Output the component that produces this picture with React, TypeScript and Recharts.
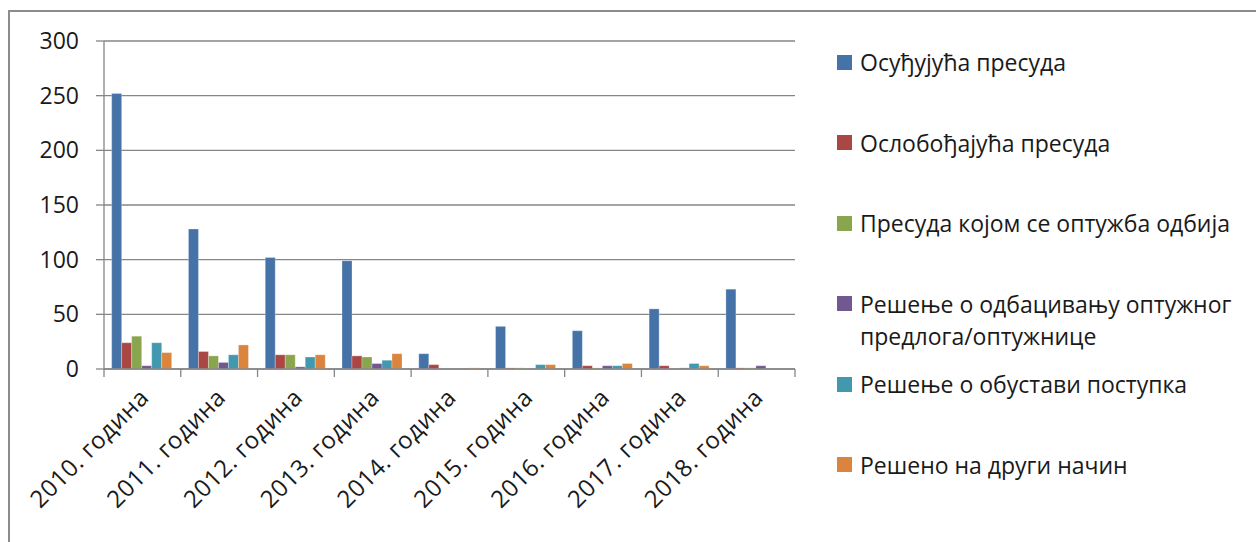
import React from "react";
import { BarChart, Bar, XAxis, YAxis, CartesianGrid, Legend } from "recharts";

const years = ["2010. година", "2011. година", "2012. година", "2013. година", "2014. година", "2015. година", "2016. година", "2017. година", "2018. година"];

const osudjujuca = [252, 128, 102, 99, 14, 39, 35, 55, 73];
const oslobadjajuca = [24, 16, 13, 12, 4, 1, 3, 3, 1];
const odbija = [30, 12, 13, 11, 0, 1, 1, 0, 1];
const odbacivanje = [3, 6, 2, 5, 0, 0, 3, 1, 3];
const obustava = [24, 13, 11, 8, 0, 4, 3, 5, 0];
const drugiNacin = [15, 22, 13, 14, 1, 4, 5, 3, 0];

const yTicks = [0, 50, 100, 150, 200, 250, 300];

const series = [
  { key: "s1", name: "Осуђујућа пресуда", values: osudjujuca, color: "#4572A7" },
  { key: "s2", name: "Ослобођајућа пресуда", values: oslobadjajuca, color: "#AA4643" },
  { key: "s3", name: "Пресуда којом се оптужба одбија", values: odbija, color: "#89A54E" },
  { key: "s4", name: "Решење о одбацивању оптужног предлога/оптужнице", values: odbacivanje, color: "#71588F" },
  { key: "s5", name: "Решење о обустави поступка", values: obustava, color: "#4198AF" },
  { key: "s6", name: "Решено на други начин", values: drugiNacin, color: "#DB843D" },
];

const data = years.map((year, i) => {
  const row: Record<string, string | number> = { year };
  series.forEach((s) => { row[s.key] = s.values[i]; });
  return row;
});

const W = 1256;
const H = 542;
const margin = { top: 41, right: 461, bottom: 0, left: 0 };
const yAxisW = 104;
const xAxisH = 173;
const plotW = W - margin.left - margin.right - yAxisW;
const band = plotW / years.length;
const FONT = "'Open Sans', sans-serif";
const AXIS = "#868686";

function XTick(props: any) {
  const { x, y, payload, index } = props;
  const left = x - band / 2;
  const lx = x + 8;
  const ly = y + 30;
  return (
    <g>
      <line x1={left} y1={y} x2={left} y2={y + 8} stroke={AXIS} strokeWidth={1.3} />
      {index === years.length - 1 && (
        <line x1={x + band / 2} y1={y} x2={x + band / 2} y2={y + 8} stroke={AXIS} strokeWidth={1.3} />
      )}
      <text x={lx} y={ly} transform={`rotate(-45, ${lx}, ${ly})`} textAnchor="end" fontSize={24} letterSpacing={0.5} fontFamily={FONT} fill="#1a1a1a">
        {payload.value}
      </text>
    </g>
  );
}

function LegendBox() {
  return (
    <div style={{ fontFamily: FONT, fontSize: 23, color: "#1a1a1a", textAlign: "left" }}>
      {series.map((s) => (
        <div key={s.key} style={{ height: 80.5, display: "flex", alignItems: "flex-start" }}>
          <div style={{ width: 15, height: 15, background: s.color, marginTop: 8.5, marginRight: 8, flexShrink: 0 }} />
          <div style={{ lineHeight: "32px", width: 396, whiteSpace: "normal" }}>{s.name}</div>
        </div>
      ))}
    </div>
  );
}

export default function App() {
  return (
    <div style={{ position: "absolute", left: 0, top: 0, width: W, height: H, overflow: "hidden", background: "#fff" }}>
      <div style={{ position: "absolute", left: 8, top: 10, width: 1400, height: 700, border: "2px solid #8c8c8c" }} />
      <div style={{ position: "absolute", left: 0, top: 0 }}>
        <BarChart width={W} height={H} data={data} margin={margin} barCategoryGap="10%" barGap={0}>
          <CartesianGrid vertical={false} stroke={AXIS} strokeWidth={1.3} />
          <XAxis
            dataKey="year"
            height={xAxisH}
            interval={0}
            tickLine={false}
            tickSize={0}
            tickMargin={0}
            axisLine={{ stroke: AXIS, strokeWidth: 1.3 }}
            tick={<XTick />}
          />
          <YAxis
            width={yAxisW}
            domain={[0, 300]}
            ticks={yTicks}
            interval={0}
            tickSize={8}
            tickMargin={17}
            tickLine={{ stroke: AXIS, strokeWidth: 1.3 }}
            axisLine={{ stroke: AXIS, strokeWidth: 1.3 }}
            tick={{ fontSize: 23, fontFamily: FONT, fill: "#1a1a1a" }}
          />
          <Legend
            layout="vertical"
            verticalAlign="middle"
            align="center"
            content={<LegendBox />}
            wrapperStyle={{ position: "absolute", left: 837, top: 46, width: 419 }}
          />
          {series.map((s) => (
            <Bar key={s.key} dataKey={s.key} name={s.name} fill={s.color} stroke="#ffffff" strokeOpacity={0.35} strokeWidth={0.8} isAnimationActive={false} />
          ))}
        </BarChart>
      </div>
    </div>
  );
}
